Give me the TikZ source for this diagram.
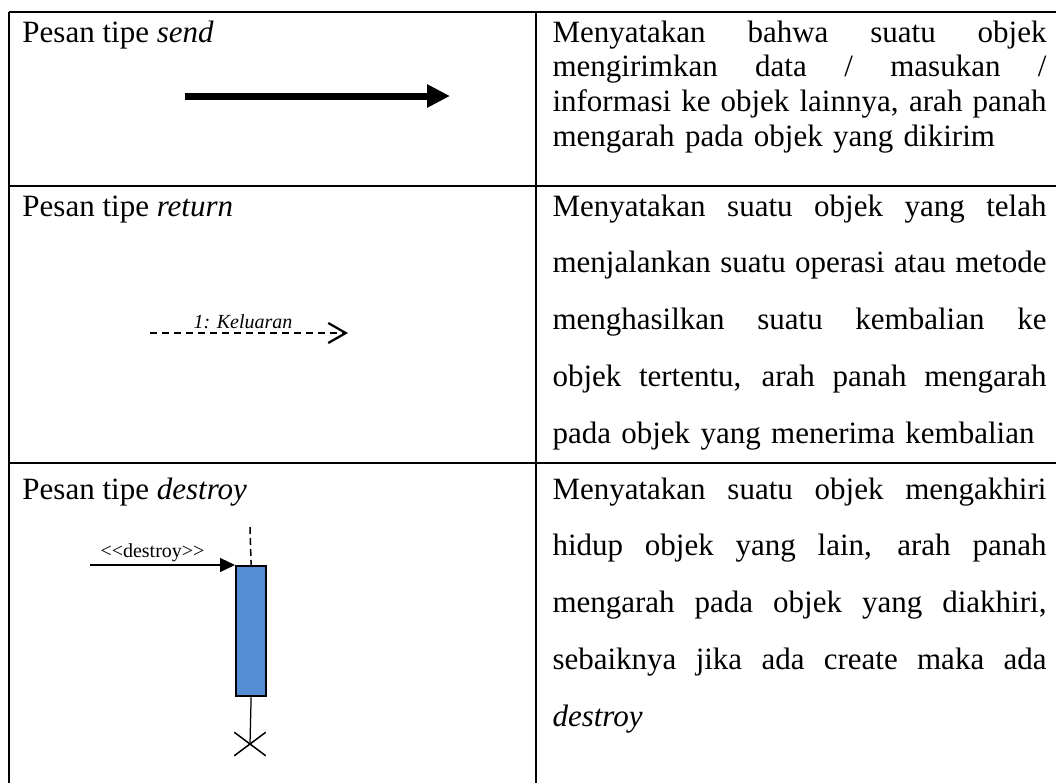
\documentclass[tikz,border=0pt]{standalone}
\usepackage{fontspec}
\setmainfont{Liberation Serif}
\usetikzlibrary{arrows.meta,shapes.misc}

\newlength{\descwidth}
\setlength{\descwidth}{197.6pt}
\newcommand{\fullline}[1]{{\spaceskip=0pt\xspaceskip=0pt\makebox[\descwidth][s]{#1}}}

\definecolor{lifebar}{RGB}{85,142,213}

\tikzset{
  tablerule/.style  = {line width=0.8pt},
  cell/.style       = {inner sep=0pt, anchor=base west, font=\fontsize{12.4}{13.9}\selectfont},
  desc/.style       = {cell, text width=\descwidth, align=left},
  wide/.style       = {font=\fontsize{12.4}{22.7}\selectfont},
  msglabel/.style   = {inner sep=0pt, anchor=base west, font=\fontsize{8}{9.6}\selectfont},
  sendmsg/.style    = {line width=2.8pt, -{Triangle[length=9.2pt,width=8.8pt]}},
  returnmsg/.style  = {line width=0.9pt, dash pattern=on 2.6pt off 2.2pt, -{Straight Barb[length=7pt,width=8pt]}},
  destroymsg/.style = {line width=0.5pt, -{Triangle[length=6pt,width=5.6pt]}},
  activation/.style = {draw, line width=0.9pt, fill=lifebar, inner sep=0pt, minimum width=12pt, minimum height=52pt, anchor=north west},
  lifeline/.style   = {line width=0.6pt, dash pattern=on 2.8pt off 1.6pt},
  endmark/.style    = {draw, cross out, line width=0.6pt, inner sep=0pt, minimum width=12pt, minimum height=8.8pt}
}

\begin{document}
\begin{tikzpicture}[x=0.4pt, y=-0.4pt]
\useasboundingbox (0,0) rectangle (1056,782);

% table rules
\foreach \y in {12,186,463}
  \draw[tablerule] (8.6,\y) -- (1060,\y);
\foreach \x in {9,536}
  \draw[tablerule] (\x,11.6) -- (\x,790);

% left column, names of the messages
\node[cell] (lbl1) at (22,42) {Pesan tipe \textit{send}};
\node[cell] (lbl2) at (22,216) {Pesan tipe \textit{return}};
\node[cell] (lbl3) at (22,499) {Pesan tipe \textit{destroy}};

% right column, descriptions
\node[desc] (desc1) at (552,42) {\fullline{Menyatakan bahwa suatu objek}\\
  \fullline{mengirimkan data / masukan /}\\
  \fullline{informasi ke objek lainnya, arah panah}\\
  mengarah pada objek yang dikirim};
\node[desc, wide] (desc2) at (552,216) {\fullline{Menyatakan suatu objek yang telah}\\
  \fullline{menjalankan suatu operasi atau metode}\\
  \fullline{menghasilkan suatu kembalian ke}\\
  \fullline{objek tertentu, arah panah mengarah}\\
  pada objek yang menerima kembalian};
\node[desc, wide] (desc3) at (552,499) {\fullline{Menyatakan suatu objek mengakhiri}\\
  \fullline{hidup objek yang lain, arah panah}\\
  \fullline{mengarah pada objek yang diakhiri,}\\
  \fullline{sebaiknya jika ada create maka ada}\\
  \textit{destroy}};

% send
\coordinate (s1) at (185,96);
\coordinate (s2) at (450,96);
\draw[sendmsg] (s1) -- (s2);

% return
\coordinate (r1) at (150,333);
\coordinate (r2) at (348,333);
\draw[returnmsg] (r1) -- (r2);
\node[msglabel, font=\fontsize{8}{9.6}\selectfont\itshape] (rlabel) at (193,328) {1: Keluaran};

% destroy
\node[activation] (act) at (235,565) {};
\coordinate (dstart) at (90,565);
\coordinate (lifetop) at (250,527);
\node[endmark] (xmark) at (250,744) {};
\draw[destroymsg] (dstart) -- (act.north west);
\node[msglabel] (dlabel) at (100,557) {<\kern0pt<destroy>\kern0pt>};
\draw[lifeline] (lifetop) -- (act.north);
\draw[line width=0.5pt] (act.south) -- (xmark.center);
\end{tikzpicture}
\end{document}
